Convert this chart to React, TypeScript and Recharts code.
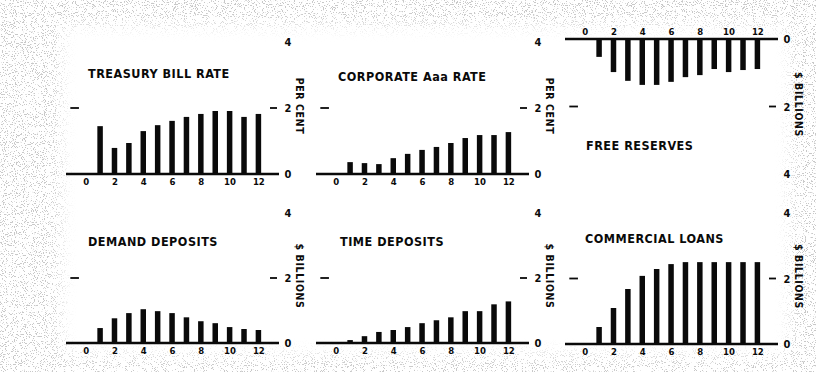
import React from 'react'
import { BarChart, Bar, XAxis, YAxis, ReferenceLine } from 'recharts'

// months after the turn, 1..12
const months = [1, 2, 3, 4, 5, 6, 7, 8, 9, 10, 11, 12]
const monthTicks = [0, 2, 4, 6, 8, 10, 12]
const scaleTicks = [0, 2, 4]
const reserveTicks = [0, -2, -4]

const treasuryBillRate = [1.45, 0.79, 0.94, 1.3, 1.48, 1.61, 1.73, 1.82, 1.91, 1.91, 1.73, 1.82]
const corporateAaaRate = [0.36, 0.33, 0.3, 0.48, 0.61, 0.73, 0.82, 0.94, 1.09, 1.18, 1.18, 1.27]
const freeReserves = [-0.53, -0.98, -1.24, -1.36, -1.36, -1.27, -1.13, -1.07, -0.89, -0.98, -0.92, -0.89]
const demandDeposits = [0.46, 0.76, 0.92, 1.04, 0.98, 0.92, 0.79, 0.67, 0.61, 0.49, 0.43, 0.4]
const timeDeposits = [0.09, 0.21, 0.34, 0.4, 0.49, 0.61, 0.7, 0.79, 0.98, 0.98, 1.19, 1.28]
const commercialLoans = [0.52, 1.1, 1.68, 2.08, 2.29, 2.44, 2.5, 2.5, 2.5, 2.5, 2.5, 2.5]

const FONT = "'DejaVu Sans Condensed', 'Liberation Sans Narrow', 'DejaVu Sans', sans-serif"
const INK = '#0a0a0a'

const PLOT_W = 213
const AXIS_W = 32

// right-hand scale: number plus the short dash at the "2" line
const ScaleTick = ({ x, y, payload }: any) => {
  const v = Math.abs(payload.value)
  return (
    <g>
      {v === 2 && <line x1={x - 9} x2={x - 2} y1={y} y2={y} stroke={INK} strokeWidth={1.8} />}
      <text x={x + 9} y={y} dy={4} textAnchor="middle" fontFamily={FONT} fontWeight={700} fontSize={11} fill={INK}>
        {v}
      </text>
    </g>
  )
}

const SideLabel = ({ viewBox, value, shift }: any) => {
  const cx = viewBox.x + 21
  const cy = viewBox.y + viewBox.height / 2 + shift
  return (
    <text
      x={cx}
      y={cy}
      transform={`rotate(90 ${cx} ${cy})`}
      textAnchor="middle"
      dominantBaseline="central"
      fontFamily={FONT}
      fontWeight={700}
      fontSize={10.5}
      letterSpacing={0.6}
      fill={INK}
    >
      {value}
    </text>
  )
}

interface PanelProps {
  title: string
  titleX: number
  titleY: number
  values: number[]
  plotLeft: number
  zeroY: number
  fourY: number
  unit: string
  flipped?: boolean
}

function Panel({ title, titleX, titleY, values, plotLeft, zeroY, fourY, unit, flipped }: PanelProps) {
  const data = months.map((m, i) => ({ month: m, value: values[i] }))
  const plotH = Math.abs(zeroY - fourY)
  const top = flipped ? zeroY - 20 : fourY - 12
  const height = 12 + plotH + 20
  const two = flipped ? -2 : 2

  return (
    <>
      <div style={{ position: 'absolute', left: plotLeft, top }}>
        <BarChart
          width={PLOT_W + AXIS_W}
          height={height}
          data={data}
          margin={flipped ? { top: 0, right: 0, bottom: 12, left: 0 } : { top: 12, right: 0, bottom: 0, left: 0 }}
        >
          <XAxis
            xAxisId="m"
            dataKey="month"
            type="number"
            orientation={flipped ? 'top' : 'bottom'}
            domain={[-1.4, 13.4]}
            ticks={monthTicks}
            height={20}
            tickLine={false}
            tickSize={0}
            tickMargin={4}
            axisLine={{ stroke: INK, strokeWidth: 2.5 }}
            tick={{ fontSize: 9.5, fontWeight: 700, fill: INK, fontFamily: FONT }}
          />
          <YAxis
            yAxisId="v"
            orientation="right"
            type="number"
            domain={flipped ? [-4, 0] : [0, 4]}
            ticks={flipped ? reserveTicks : scaleTicks}
            width={AXIS_W}
            axisLine={false}
            tickLine={false}
            tickSize={0}
            tickMargin={0}
            tick={<ScaleTick />}
            label={<SideLabel value={unit} shift={-2} />}
          />
          <ReferenceLine
            xAxisId="m"
            yAxisId="v"
            segment={[{ x: -1.1, y: two }, { x: -0.5, y: two }]}
            stroke={INK}
            strokeWidth={1.8}
          />
          <Bar xAxisId="m" yAxisId="v" dataKey="value" barSize={5.5} fill={INK} isAnimationActive={false} />
        </BarChart>
      </div>
      <div
        style={{
          position: 'absolute',
          left: titleX,
          top: titleY - 8,
          lineHeight: '16px',
          fontFamily: FONT,
          fontWeight: 700,
          fontSize: 12.5,
          letterSpacing: 0.5,
          color: INK,
          whiteSpace: 'nowrap',
        }}
      >
        {title}
      </div>
    </>
  )
}

// scanned-paper look: sparse grey grain at the edges, clean white in the middle
function Paper() {
  return (
    <>
      <svg width={816} height={372} style={{ position: 'absolute', left: 0, top: 0 }}>
        <defs>
          <filter id="grain" x="0" y="0" width="100%" height="100%">
            <feTurbulence type="fractalNoise" baseFrequency="0.9" numOctaves={2} seed={7} />
            <feColorMatrix
              type="matrix"
              values="0 0 0 0 0.58  0 0 0 0 0.58  0 0 0 0 0.58  -18 0 0 0 7.3"
            />
          </filter>
        </defs>
        <rect width={816} height={372} fill="#fff" />
        <rect width={816} height={372} filter="url(#grain)" />
      </svg>
      <div
        style={{
          position: 'absolute',
          left: 62,
          top: 26,
          width: 728,
          height: 328,
          background: '#fff',
          filter: 'blur(8px)',
        }}
      />
    </>
  )
}

export default function App() {
  return (
    <div
      style={{
        position: 'absolute',
        left: 0,
        top: 0,
        width: 816,
        height: 372,
        overflow: 'hidden',
        background: '#fff',
      }}
    >
      <Paper />
      <Panel title="TREASURY BILL RATE" titleX={88} titleY={74} values={treasuryBillRate}
        plotLeft={66} zeroY={174} fourY={42} unit="PER CENT" />
      <Panel title="CORPORATE Aaa RATE" titleX={338} titleY={77} values={corporateAaaRate}
        plotLeft={316} zeroY={174} fourY={42} unit="PER CENT" />
      <Panel title="FREE RESERVES" titleX={586} titleY={146} values={freeReserves}
        plotLeft={565} zeroY={39} fourY={174} unit="$ BILLIONS" flipped />
      <Panel title="DEMAND DEPOSITS" titleX={88} titleY={242} values={demandDeposits}
        plotLeft={66} zeroY={343} fourY={213} unit="$ BILLIONS" />
      <Panel title="TIME DEPOSITS" titleX={340} titleY={242} values={timeDeposits}
        plotLeft={316} zeroY={343} fourY={213} unit="$ BILLIONS" />
      <Panel title="COMMERCIAL LOANS" titleX={585} titleY={239} values={commercialLoans}
        plotLeft={565} zeroY={344} fourY={213} unit="$ BILLIONS" />
    </div>
  )
}
